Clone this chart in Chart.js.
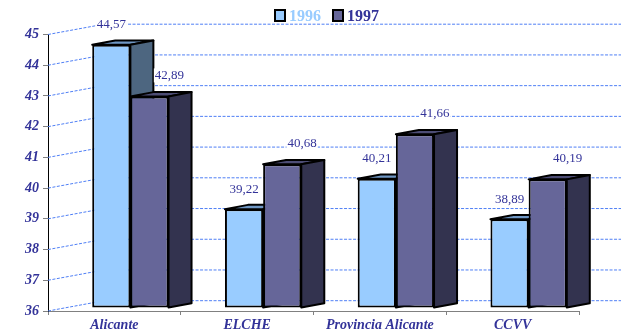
<!DOCTYPE html>
<html>
<head>
<meta charset="utf-8">
<script src="https://cdn.jsdelivr.net/npm/chart.js@4/dist/chart.umd.min.js"></script>
<style>
  html, body { margin: 0; padding: 0; background: #fff; }
  canvas { display: block; }
</style>
</head>
<body>
<canvas id="chart" width="621" height="334"></canvas>
<script>
// Values per area, two years
const categories = ['Alicante', 'ELCHE', 'Provincia Alicante', 'CCVV'];
const series1996 = [44.57, 39.22, 40.21, 38.89];
const series1997 = [42.89, 40.68, 41.66, 40.19];
const seriesNames = ['1996', '1997'];
const axisMin = 36;
const axisMax = 45;

// 3D look: back wall offset, bar offset into the depth, bar thickness
const WALL = { dx: 56, dy: -10.3 };
const SHIFT = { dx: 16, dy: -2.9 };
const DEPTH = { dx: 23, dy: -4.3 };

const TEXT = '#333399';
const SERIF = '"Liberation Serif", "DejaVu Serif", serif';
const styles = [
  { front: '#99CCFF', top: '#6f97c4', side: '#4d6680', text: '#99CCFF' },
  { front: '#666699', top: '#4d4d75', side: '#33334f', text: '#333399' }
];

const fmt = v => v.toFixed(2).replace('.', ',');

const box3d = {
  id: 'box3d',
  beforeDatasetsDraw(chart) {
    const { ctx, chartArea, scales } = chart;
    const y = scales.y;
    // dashed gridlines on the side and back walls
    ctx.save();
    ctx.strokeStyle = '#4f7ff5';
    ctx.lineWidth = 1;
    ctx.setLineDash([3, 1.5]);
    y.ticks.forEach(t => {
      const py = y.getPixelForValue(t.value);
      ctx.beginPath();
      ctx.moveTo(chartArea.left, py);
      ctx.lineTo(chartArea.left + WALL.dx, py + WALL.dy);
      ctx.lineTo(chart.width + 10, py + WALL.dy);
      ctx.stroke();
    });
    ctx.restore();

    // bars sit a little into the depth; tops and sides first, fronts by Chart.js
    ctx.save();
    ctx.translate(SHIFT.dx, SHIFT.dy);
    const metas = chart.getSortedVisibleDatasetMetas();
    ctx.lineWidth = 2;
    ctx.lineJoin = 'round';
    ctx.strokeStyle = '#000';
    for (let i = 0; i < categories.length; i++) {
      metas.forEach(meta => {
        const el = meta.data[i];
        if (!el) return;
        const p = el.getProps(['x', 'y', 'base', 'width'], true);
        const st = styles[meta.index];
        const l = p.x - p.width / 2, r = p.x + p.width / 2;
        const t = p.y, b = p.base;
        // top face
        ctx.beginPath();
        ctx.moveTo(l, t);
        ctx.lineTo(l + DEPTH.dx, t + DEPTH.dy);
        ctx.lineTo(r + DEPTH.dx, t + DEPTH.dy);
        ctx.lineTo(r, t);
        ctx.closePath();
        ctx.fillStyle = st.top;
        ctx.fill();
        ctx.stroke();
        // side face
        ctx.beginPath();
        ctx.moveTo(r, t);
        ctx.lineTo(r + DEPTH.dx, t + DEPTH.dy);
        ctx.lineTo(r + DEPTH.dx, b + DEPTH.dy);
        ctx.lineTo(r, b);
        ctx.closePath();
        ctx.fillStyle = st.side;
        ctx.fill();
        ctx.stroke();
      });
    }
  },
  afterDatasetsDraw(chart) {
    const ctx = chart.ctx;
    ctx.restore();
    // value labels
    ctx.save();
    ctx.font = '13px ' + SERIF;
    ctx.textAlign = 'center';
    ctx.textBaseline = 'middle';
    chart.getSortedVisibleDatasetMetas().forEach(meta => {
      const data = chart.data.datasets[meta.index].data;
      meta.data.forEach((el, i) => {
        const p = el.getProps(['x', 'y'], true);
        const txt = fmt(data[i]);
        const lx = p.x + SHIFT.dx + (meta.index === 1 ? 20 : 0);
        const ly = p.y + SHIFT.dy - (meta.index === 1 ? 21 : 20);
        const w = ctx.measureText(txt).width;
        ctx.fillStyle = '#fff';
        ctx.fillRect(lx - w / 2 - 1, ly - 7, w + 2, 14);
        ctx.fillStyle = TEXT;
        ctx.fillText(txt, lx, ly);
      });
    });
    ctx.restore();
  },
  afterDraw(chart) {
    // legend row at the top
    const ctx = chart.ctx;
    ctx.save();
    ctx.font = 'bold 16px ' + SERIF;
    ctx.textBaseline = 'middle';
    ctx.textAlign = 'left';
    let x = 275;
    const cy = 15.5;
    chart.data.datasets.forEach((ds, k) => {
      ctx.fillStyle = styles[k].front;
      ctx.fillRect(x, cy - 5.5, 10, 11);
      ctx.lineWidth = 2;
      ctx.strokeStyle = '#000';
      ctx.strokeRect(x, cy - 5.5, 10, 11);
      x += 14;
      ctx.fillStyle = styles[k].text;
      ctx.fillText(ds.label, x, cy + 1);
      x += ctx.measureText(ds.label).width + 12;
    });
    ctx.restore();
  }
};

const tickFont = { family: SERIF, size: 14, style: 'italic', weight: 'bold' };

new Chart(document.getElementById('chart'), {
  type: 'bar',
  data: {
    labels: categories,
    datasets: [
      { label: seriesNames[0], data: series1996, backgroundColor: styles[0].front,
        borderColor: '#000', borderWidth: 2, borderSkipped: false, base: axisMin },
      { label: seriesNames[1], data: series1997, backgroundColor: styles[1].front,
        borderColor: '#000', borderWidth: 2, borderSkipped: false, base: axisMin }
    ]
  },
  options: {
    responsive: false,
    animation: false,
    devicePixelRatio: 1,
    layout: { padding: { top: 34.5, right: 42, left: 0, bottom: 0 } },
    datasets: { bar: { categoryPercentage: 0.575, barPercentage: 1, clip: false } },
    plugins: {
      legend: { display: false },
      tooltip: { enabled: false }
    },
    scales: {
      x: {
        grid: { offset: true, drawOnChartArea: false, drawTicks: true, tickLength: 4, color: '#808080' },
        border: { display: true, color: '#808080', width: 1 },
        ticks: { color: TEXT, font: tickFont, padding: 2, maxRotation: 0 },
        afterFit(s) { s.height = 23; }
      },
      y: {
        min: axisMin,
        max: axisMax,
        grid: { drawOnChartArea: false, drawTicks: true, tickLength: 5, color: '#808080' },
        border: { display: true, color: '#000', width: 1 },
        ticks: { stepSize: 1, color: TEXT, font: tickFont, padding: 4 },
        afterFit(s) { s.width = 48; }
      }
    }
  },
  plugins: [box3d]
});
</script>
</body>
</html>
